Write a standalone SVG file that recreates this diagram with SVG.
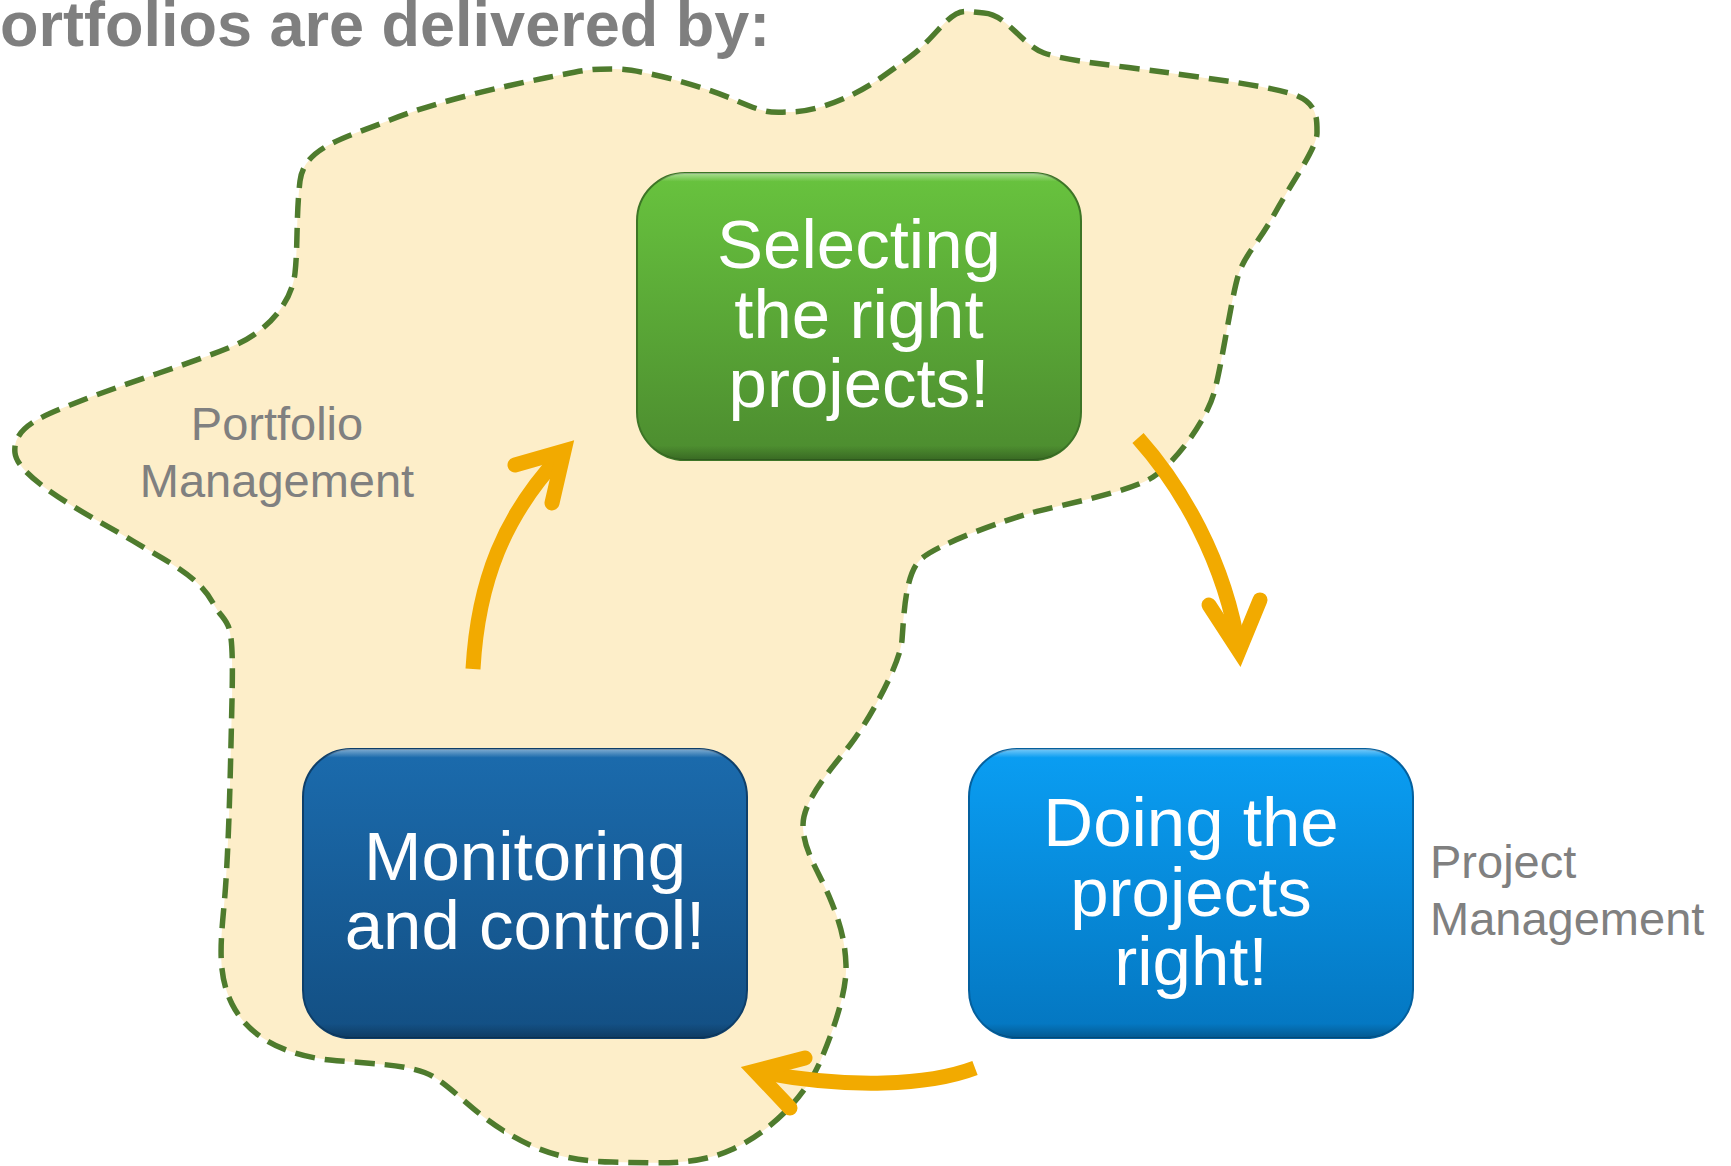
<svg xmlns="http://www.w3.org/2000/svg" width="1731" height="1166" viewBox="0 0 1731 1166">
  <defs>
    <style>
      .title { font-family: "Liberation Sans", Arial, Helvetica, sans-serif; font-weight: bold; font-size: 63px; fill: #7f7f7f; }
      .area { font-family: "Liberation Sans", Arial, Helvetica, sans-serif; font-size: 47px; fill: #808080; }
      .node-text { font-family: "Liberation Sans", Arial, Helvetica, sans-serif; font-size: 69px; fill: #ffffff; text-anchor: middle; }
      .zone { fill: #fdeec9; stroke: #4e7b2d; stroke-width: 5.5; stroke-dasharray: 20 10; }
      .flow { fill: none; stroke: #f2aa00; stroke-width: 15; }
      .shaft { stroke-linecap: butt; }
      .head { stroke-linecap: round; stroke-linejoin: miter; stroke-miterlimit: 6; }
      .bevel { fill: url(#bevel); }
    </style>
    <linearGradient id="gGreen" x1="0" y1="0" x2="0" y2="1">
      <stop offset="0" stop-color="#68c33e"/>
      <stop offset="1" stop-color="#4c8c2f"/>
    </linearGradient>
    <linearGradient id="gNavy" x1="0" y1="0" x2="0" y2="1">
      <stop offset="0" stop-color="#1b6bad"/>
      <stop offset="1" stop-color="#134f83"/>
    </linearGradient>
    <linearGradient id="gSky" x1="0" y1="0" x2="0" y2="1">
      <stop offset="0" stop-color="#0a9ef3"/>
      <stop offset="1" stop-color="#0476c0"/>
    </linearGradient>
    <!-- soft top highlight and bottom shade shared by all boxes -->
    <linearGradient id="bevel" x1="0" y1="0" x2="0" y2="1">
      <stop offset="0" stop-color="#ffffff" stop-opacity="0.45"/>
      <stop offset="0.03" stop-color="#ffffff" stop-opacity="0"/>
      <stop offset="0.95" stop-color="#000000" stop-opacity="0"/>
      <stop offset="1" stop-color="#000000" stop-opacity="0.25"/>
    </linearGradient>
  </defs>

  <!-- heading -->
  <text class="title" x="0" y="46">ortfolios are delivered by:</text>

  <!-- portfolio management zone -->
  <path id="portfolio-zone" class="zone" d="M 984 13
    C 1006 14, 1022 45, 1044 53
    S 1120 66, 1163 72
    S 1260 85, 1289 93
    S 1317 118, 1317 133
    S 1292 182, 1275 213
    S 1246 253, 1239 273
    S 1222 365, 1214 393
    S 1176 462, 1153 477
    S 1060 505, 1031 513
    S 935 545, 920 560
    S 904 615, 902 640
    S 868 722, 850 745
    S 803 800, 803 825
    S 818 870, 829 896
    S 845 940, 846 965
    S 835 1027, 820 1062
    S 770 1132, 733 1149
    S 660 1163, 612 1162
    S 535 1150, 504 1131
    S 455 1090, 434 1077
    S 370 1064, 330 1060
    S 250 1040, 232 1004
    S 223 930, 226 880
    S 230 790, 232 700
    S 228 630, 213 603
    S 170 563, 133 541
    S 18 480, 15 453
    S 45 415, 83 400
    S 195 362, 233 346
    S 292 300, 295 273
    S 296 215, 300 181
    S 345 138, 390 120
    S 500 87, 545 78
    S 590 69, 615 69
    S 700 85, 735 100
    S 770 112, 791 112
    S 850 100, 882 77
    S 915 55, 938 30
    S 962 12, 984 13 Z"/>

  <!-- area labels -->
  <g id="label-portfolio">
    <text class="area" x="277" y="440" text-anchor="middle">Portfolio</text>
    <text class="area" x="277" y="497" text-anchor="middle">Management</text>
  </g>
  <g id="label-project">
    <text class="area" x="1430" y="878">Project</text>
    <text class="area" x="1430" y="935">Management</text>
  </g>

  <!-- connectors -->
  <g id="connectors">
    <g id="flow-monitor-to-select">
      <path class="flow shaft" d="M 473 669 C 478 580, 505 515, 560 456"/>
      <path class="flow head" d="M 515 465 L 564 451 L 552 503"/>
    </g>
    <g id="flow-select-to-doing">
      <path class="flow shaft" d="M 1138 438 C 1180 485, 1225 560, 1239 651"/>
      <path class="flow head" d="M 1209 605 L 1239 651 L 1260 600"/>
    </g>
    <g id="flow-doing-to-monitor">
      <path class="flow shaft" d="M 975 1068 C 930 1085, 850 1090, 755 1071"/>
      <path class="flow head" d="M 805 1058 L 755 1071 L 790 1108"/>
    </g>
  </g>

  <!-- nodes -->
  <g id="node-select">
    <rect x="637" y="173" width="444" height="287" rx="48" fill="url(#gGreen)" stroke="#3d7526" stroke-width="2"/>
    <rect class="bevel" x="637" y="173" width="444" height="287" rx="48"/>
    <text class="node-text" x="859" y="268">Selecting</text>
    <text class="node-text" x="859" y="338">the right</text>
    <text class="node-text" x="859" y="407">projects!</text>
  </g>

  <g id="node-monitor">
    <rect x="303" y="749" width="444" height="289" rx="48" fill="url(#gNavy)" stroke="#0e3f6a" stroke-width="2"/>
    <rect class="bevel" x="303" y="749" width="444" height="289" rx="48"/>
    <text class="node-text" x="525" y="880">Monitoring</text>
    <text class="node-text" x="525" y="949">and control!</text>
  </g>

  <g id="node-doing">
    <rect x="969" y="749" width="444" height="289" rx="48" fill="url(#gSky)" stroke="#04609e" stroke-width="2"/>
    <rect class="bevel" x="969" y="749" width="444" height="289" rx="48"/>
    <text class="node-text" x="1191" y="846">Doing the</text>
    <text class="node-text" x="1191" y="916">projects</text>
    <text class="node-text" x="1191" y="985">right!</text>
  </g>
</svg>
